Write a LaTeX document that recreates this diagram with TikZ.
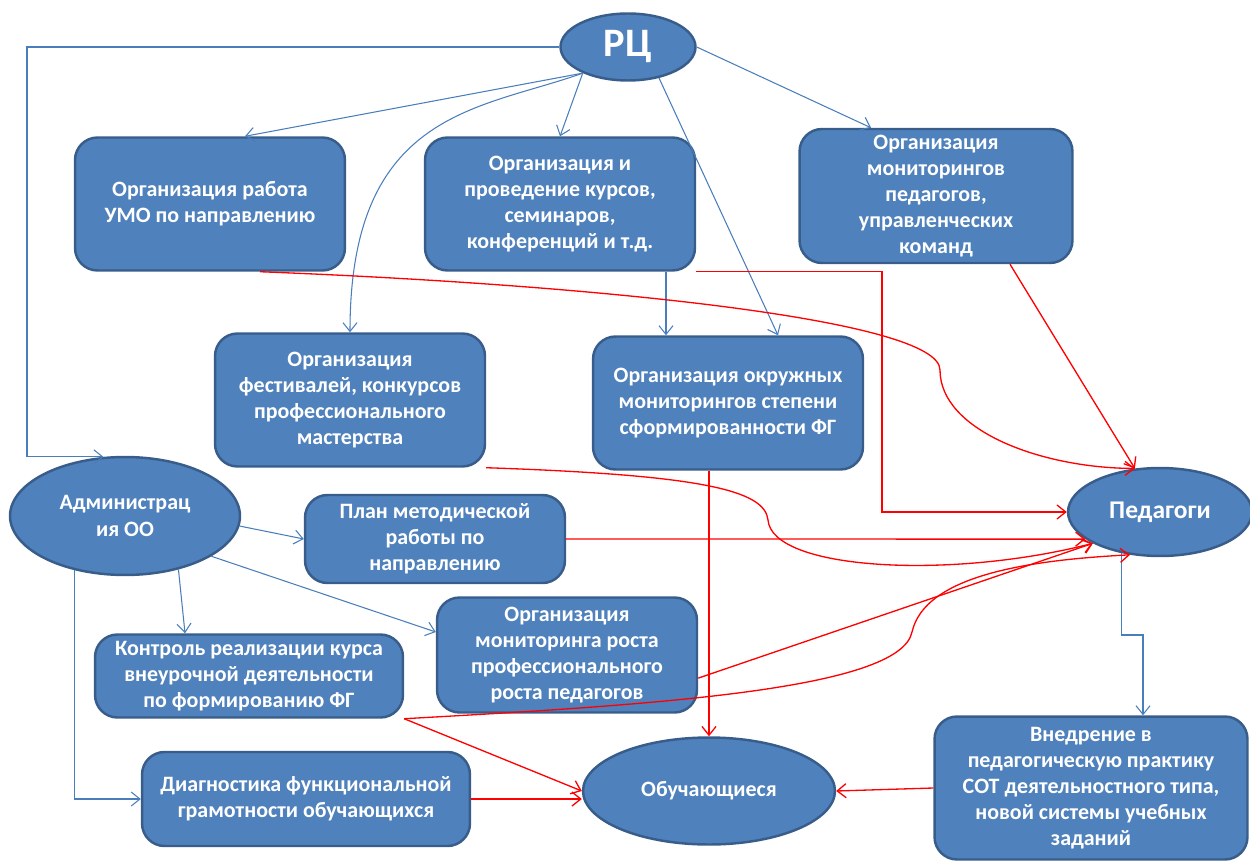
\documentclass[tikz,border=0pt]{standalone}
\usepackage{fontspec}
\setmainfont{Carlito}
\usetikzlibrary{arrows.meta, shapes.geometric, positioning}
\definecolor{BoxFill}{RGB}{79,129,189}
\definecolor{BoxLine}{RGB}{56,93,138}
\definecolor{LinkBlue}{RGB}{74,126,187}
\newcommand{\boxfont}{\fontsize{12.5}{14.9}\selectfont\bfseries}
\newcommand{\pedfont}{\fontsize{14.5}{16}\selectfont\bfseries}
\newcommand{\rcfont}{\fontsize{23}{26}\selectfont\bfseries}
\tikzstyle{block} = [rectangle, rounded corners=0.45cm, draw=BoxLine, line width=1.4pt, fill=BoxFill,
                     text=white, font=\boxfont, align=center, inner sep=1pt]
\tikzstyle{oval} = [ellipse, draw=BoxLine, line width=1.4pt, fill=BoxFill, text=white, font=\boxfont,
                    align=center, inner sep=0pt]
\tikzstyle{link} = [draw=LinkBlue, line width=0.6pt, -{Straight Barb[length=5pt,width=8pt]}]
\tikzstyle{feed} = [draw=red, line width=0.75pt, -{Straight Barb[length=5pt,width=8pt]}]

\begin{document}
\begin{tikzpicture}[x=0.02cm, y=-0.02cm]
				\useasboundingbox (0,0) rectangle (1250,861);

				\node (RC) [oval, minimum width=2.7cm, minimum height=1.34cm, font=\rcfont] at (628,47) {РЦ};
				\node (UMO) [block, minimum width=5.4cm, minimum height=2.66cm] at (210,204) {Организация работа\\УМО по направлению};
				\node (Kursy) [block, minimum width=5.4cm, minimum height=2.66cm] at (560,204) {Организация и\\проведение курсов,\\семинаров,\\конференций и т.д.};
				\node (MonPed) [block, minimum width=5.46cm, minimum height=2.68cm] at (936,196) {Организация\\мониторингов\\педагогов,\\управленческих\\команд};
				\node (Fest) [block, minimum width=5.4cm, minimum height=2.66cm] at (350,400) {Организация\\фестивалей, конкурсов\\профессионального\\мастерства};
				\node (Okrug) [block, minimum width=5.4cm, minimum height=2.66cm] at (728,403) {Организация окружных\\мониторингов степени\\сформированности ФГ};
				\node (Admin) [oval, minimum width=4.6cm, minimum height=2.36cm] at (125,516) {Администрац\\ия ОО};
				\node (Plan) [block, minimum width=5.2cm, minimum height=1.76cm] at (435,539) {План методической\\работы по\\направлению};
				\node (Ped) [oval, minimum width=3.68cm, minimum height=1.76cm, font=\pedfont] at (1160,512) {Педагоги};
				\node (MonRost) [block, minimum width=5.2cm, minimum height=2.3cm] at (567,655) {Организация\\мониторинга роста\\профессионального\\роста педагогов};
				\node (Kontrol) [block, minimum width=6.16cm, minimum height=1.66cm] at (249,676) {Контроль реализации курса\\внеурочной деятельности\\по формированию ФГ};
				\node (Diag) [block, minimum width=6.56cm, minimum height=1.88cm] at (306,799) {Диагностика функциональной\\грамотности обучающихся};
				\node (Obuch) [oval, minimum width=5.04cm, minimum height=2.14cm] at (709,791) {Обучающиеся};
				\node (Vnedr) [block, minimum width=6.26cm, minimum height=2.86cm] at (1091,788) {Внедрение в\\педагогическую практику\\СОТ деятельностного типа,\\новой системы учебных\\заданий};

				\coordinate (LeftRail) at (27,300);
				\coordinate (KursyDrop) at (666,300);
				\coordinate (KursyRail) at (882,400);
				\coordinate (PedBend) at (1143,635);
				\coordinate (UMOBend) at (940,370);
				\coordinate (FestBend) at (768,520);
				\coordinate (KontrolBend) at (912,632);

				\draw [link] (RC.west) -| (LeftRail) |- (Admin.110);
				\draw [link] (RC.210) -- ([xshift=0.7cm]UMO.north);
				\draw [link] (RC.210) .. controls (480,110) and (350,110) .. (Fest.north);
				\draw [link] (RC.210) -- (Kursy.north);
				\draw [link] (RC.315) -- ([xshift=1cm]Okrug.north);
				\draw [link] (RC.east) -- ([xshift=-1.3cm]MonPed.north);
				\draw [link] (Kursy.south -| KursyDrop) -- (Okrug.north -| KursyDrop);
				\draw [link] (Admin.355) -- (Plan.west);
				\draw [link] (Admin.335) -- ([yshift=0.46cm]MonRost.west);
				\draw [link] (Admin.315) -- ([xshift=-1.28cm]Kontrol.north);
				\draw [link] (Admin.227) |- (Diag.west);
				\draw [link] (Ped.227) |- (PedBend) -- (Vnedr.north -| PedBend);

				\draw [feed] ([xshift=1cm]UMO.south) .. controls (600,285) and (940,320) .. (UMOBend)
				             .. controls (940,430) and (1040,468) .. (Ped.120);
				\draw [feed] (Kursy.south east) -| (KursyRail) |- (Ped.west);
				\draw [feed] ([xshift=1.48cm]MonPed.south) -- (Ped.120);
				\draw [feed] (Fest.south east) .. controls (700,475) and (765,490) .. (FestBend)
				             .. controls (772,570) and (950,580) .. (Ped.205);
				\draw [feed] (Plan.east) -- (Ped.200);
				\draw [feed] (MonRost.350) -- (Ped.205);
				\draw [feed] (Kontrol.south east) .. controls (650,705) and (900,690) .. (KontrolBend)
				             .. controls (925,575) and (1030,560) .. (Ped.235);
				\draw [feed] (Kontrol.south east) -- (Obuch.west);
				\draw [feed] (Diag.east) -- (Diag.east -| Obuch.west);
				\draw [feed] (Okrug.south -| Obuch.north) -- (Obuch.north);
				\draw [feed] (Vnedr.west) -- (Obuch.east);
			\end{tikzpicture}
\end{document}
